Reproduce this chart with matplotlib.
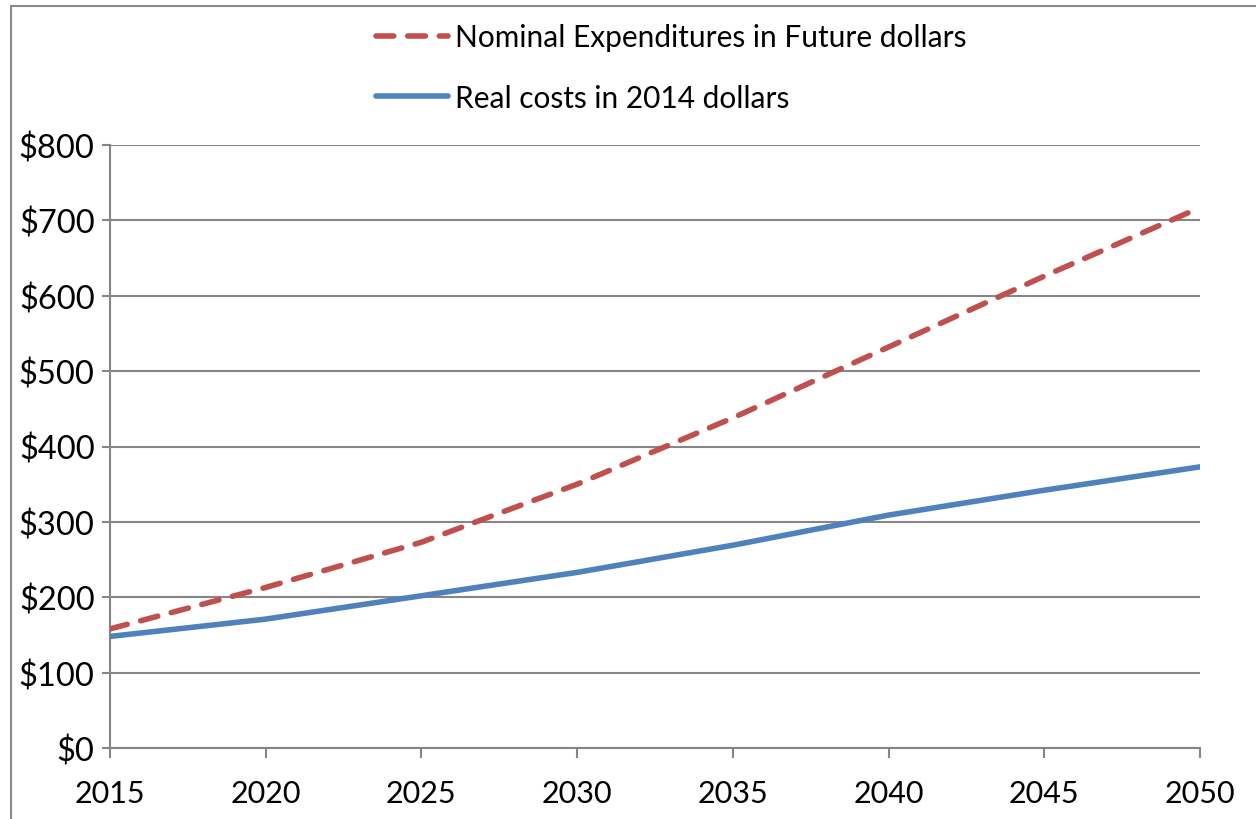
import matplotlib.pyplot as plt
from matplotlib.lines import Line2D

plt.rcParams['font.family'] = ['Lato', 'DejaVu Sans']

# Projected costs, read every five years
years = [2015, 2020, 2025, 2030, 2035, 2040, 2045, 2050]
nominal = [158, 213, 273, 350, 438, 532, 626, 717]
real = [148, 171, 202, 233, 269, 309, 342, 373]

y_ticks = [0, 100, 200, 300, 400, 500, 600, 700, 800]
y_labels = ['$' + str(v) for v in y_ticks]

red = '#C0504D'
blue = '#4F81BD'
grey = '#868686'

fig = plt.figure(figsize=(12.56, 8.2), dpi=100)
ax = fig.add_axes([110 / 1256, 71 / 820, 1090 / 1256, 603 / 820])

# chart frame
fig.add_artist(Line2D([11 / 1256, 11 / 1256], [0, 813 / 820], color='#8a8a8a', lw=1.5,
                      transform=fig.transFigure))
fig.add_artist(Line2D([11 / 1256, 1], [813 / 820, 813 / 820], color='#8a8a8a', lw=1.5,
                      transform=fig.transFigure))

ax.plot(years, nominal, color=red, lw=4, dashes=(3.2, 2.5), dash_capstyle='round',
        label='Nominal Expenditures in Future dollars', zorder=3)
ax.plot(years, real, color=blue, lw=4, solid_capstyle='round',
        label='Real costs in 2014 dollars', zorder=3)

ax.set_xlim(2015, 2050)
ax.set_ylim(0, 800)
ax.set_xticks(range(2015, 2051, 5))
ax.set_yticks(y_ticks)
ax.set_yticklabels(y_labels)

ax.grid(axis='y', color=grey, lw=1.5)
ax.set_axisbelow(True)
for s in ['top', 'right']:
    ax.spines[s].set_visible(False)
for s in ['left', 'bottom']:
    ax.spines[s].set_color(grey)
    ax.spines[s].set_linewidth(1.5)
ax.tick_params(axis='x', direction='out', length=7, width=1.5, color=grey,
               labelsize=22, pad=15)
ax.tick_params(axis='y', direction='out', length=6, width=1.5, color=grey,
               labelsize=23.5, pad=5)

fig.legend(loc='upper left', bbox_to_anchor=(376 / 1256, 796 / 820), frameon=False,
           fontsize=21.5, handlelength=2.4, handletextpad=0.25, labelspacing=1.1,
           borderpad=0, borderaxespad=0)

fig.savefig('out.png', dpi=100)
